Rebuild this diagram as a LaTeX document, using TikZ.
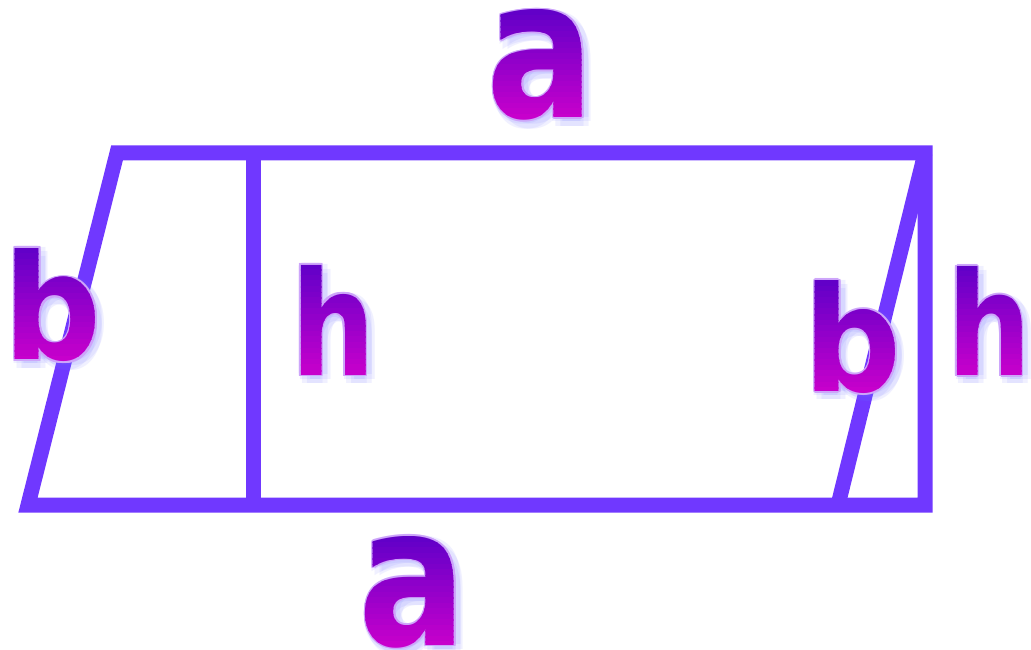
\documentclass[tikz,border=0pt]{standalone}
\usepackage{fontspec}
\newfontfamily\labelfont{DejaVu Sans Condensed}
\definecolor{edgeviolet}{RGB}{112,56,255}
\definecolor{inktop}{RGB}{98,0,200}
\definecolor{inkbottom}{RGB}{204,0,204}
\definecolor{rimlilac}{RGB}{205,165,250}
\definecolor{glowblue}{RGB}{110,110,255}

\newcommand{\glyphbox}[3]{\resizebox{#2pt}{#3pt}{\labelfont\bfseries #1}}
% name, x, y, letter, box width, box height
\newcommand{\gradletter}[6]{%
  % Halo
  \foreach \a in {0,60,...,300}
    \node[letter, text=glowblue, opacity=0.1] at ([shift={(\a:5)}]{#2+4},{#3+4}) {\glyphbox{#4}{#5}{#6}};
  % Borde
  \foreach \a in {0,45,...,315}
    \node[letter, text=rimlilac] at ([shift={(\a:1.6)}]#2,#3) {\glyphbox{#4}{#5}{#6}};
  % Degradado por franjas
  \foreach \k in {0,...,19} {
    \pgfmathtruncatemacro{\mix}{100-5*\k}
    \begin{scope}
      \clip ({#2-#5},{#3-#6/2-1+\k*(#6+2)/20}) rectangle ++({2*#5},{(#6+2)/20+0.6});
      \node[letter, text=inktop!\mix!inkbottom] (#1) at (#2,#3) {\glyphbox{#4}{#5}{#6}};
    \end{scope}
  }
}

\begin{document}
\begin{tikzpicture}[x=1pt, y=-1pt,
    edge/.style={line width=15pt, edgeviolet, line join=miter},
    letter/.style={inner sep=0pt, outer sep=0pt}]
  \useasboundingbox (0,0) rectangle (1031,650);

  % Vértices
  \coordinate (tl) at (117,153);
  \coordinate (tr) at (925,153);
  \coordinate (br) at (925,505);
  \coordinate (bl) at (28,505);
  \coordinate (ht) at (253,153);
  \coordinate (hb) at (253,505);
  \coordinate (sb) at (838,505);

  % Paralelogramo y rectángulo
  \draw[edge] (bl) -- (tl) -- (tr) -- (br) -- cycle;
  \draw[edge] (tr) -- (sb);
  \draw[edge] (ht) -- (hb);

  % Etiquetas
  \gradletter{atop}{541}{65}{a}{108}{108}
  \gradletter{abottom}{413}{592}{a}{108}{109}
  \gradletter{bleft}{53}{305}{b}{98}{112}
  \gradletter{hmid}{333}{320}{h}{84}{110}
  \gradletter{bright}{853}{337}{b}{98}{111}
  \gradletter{hright}{989}{321}{h}{84}{109}
\end{tikzpicture}
\end{document}
